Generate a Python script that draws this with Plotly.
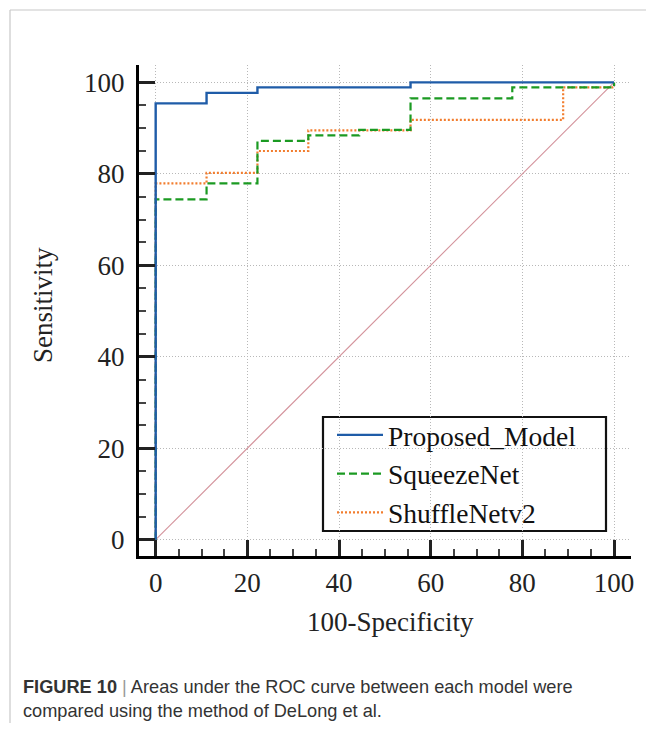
import plotly.graph_objects as go

# ROC step points (100-Specificity, Sensitivity)
proposed_fpr = [0, 0, 11.1, 22.2, 55.6, 100]
proposed_tpr = [0, 95.4, 97.7, 98.9, 100, 100]

squeeze_fpr = [0, 0, 11.1, 22.2, 33.3, 44.4, 55.6, 77.8, 100]
squeeze_tpr = [0, 74.4, 77.9, 87.2, 88.4, 89.6, 96.5, 98.9, 100]

shuffle_fpr = [0, 0, 11.1, 22.2, 33.3, 55.6, 88.9, 100]
shuffle_tpr = [0, 77.9, 80.2, 85.0, 89.5, 91.8, 98.9, 100]

diag_x = [0, 100]
diag_y = [0, 100]

series_names = ["Proposed_Model", "SqueezeNet", "ShuffleNetv2"]
tick_vals = [0, 20, 40, 60, 80, 100]

SERIF = "Liberation Serif, Times New Roman, serif"
SANS = "Liberation Sans, Arial, sans-serif"

fig = go.Figure()

fig.add_trace(go.Scatter(x=diag_x, y=diag_y, mode="lines",
                         line=dict(color="#d4939c", width=1.1),
                         showlegend=False, hoverinfo="skip"))

fig.add_trace(go.Scatter(x=shuffle_fpr, y=shuffle_tpr, mode="lines",
                         line=dict(color="#f27d2e", width=2.2, dash="2px,2px", shape="hv"),
                         name=series_names[2], legendrank=3))
fig.add_trace(go.Scatter(x=squeeze_fpr, y=squeeze_tpr, mode="lines",
                         line=dict(color="#1b9a22", width=2.2, dash="8px,4px", shape="hv"),
                         name=series_names[1], legendrank=2))
fig.add_trace(go.Scatter(x=proposed_fpr, y=proposed_tpr, mode="lines",
                         line=dict(color="#1f5ca8", width=2.4, shape="hv"),
                         name=series_names[0], legendrank=1))

axis_common = dict(
    tickvals=tick_vals,
    showgrid=True, gridcolor="#b8b8b8", griddash="1px,2px", gridwidth=1,
    zeroline=False,
    showline=True, linecolor="black", linewidth=3, mirror=False,
    ticks="inside", ticklen=16, tickwidth=2.5, tickcolor="#222",
    minor=dict(dtick=5, ticks="inside", ticklen=7, tickwidth=1.5, tickcolor="#444", showgrid=False),
    tickfont=dict(family=SERIF, size=27, color="#222"),
)

fig.update_xaxes(range=[-3.64, 103.7], ticklabelstandoff=1, **axis_common)
fig.update_yaxes(range=[-3.56, 103.8], ticklabelstandoff=6, **axis_common)

# page offset (body margin) compensation
OFF = 8
W, H = 638, 715
L = 139 - OFF
T = 65 - OFF
R = W - (631 - OFF)
B = H - (556 - OFF)
pw = W - L - R
ph = H - T - B

def px_to_paper_x(px):
    return (px - OFF - L) / pw

def py_to_paper_y(py):
    return (H - B - (py - OFF)) / ph

fig.update_layout(
    width=W, height=H,
    margin=dict(l=L, r=R, t=T, b=B),
    paper_bgcolor="white", plot_bgcolor="white",
    showlegend=True,
    legend=dict(
        x=px_to_paper_x(332), y=py_to_paper_y(474), xanchor="left", yanchor="middle",
        borderwidth=0, bgcolor="rgba(0,0,0,0)",
        font=dict(family=SERIF, size=27.5, color="#111"),
        itemwidth=46, tracegroupgap=0,
    ),
    annotations=[
        dict(text="Sensitivity", x=px_to_paper_x(43), y=py_to_paper_y(305),
             xref="paper", yref="paper", xanchor="center", yanchor="middle",
             showarrow=False, textangle=-90,
             font=dict(family=SERIF, size=27, color="#222")),
        dict(text="100-Specificity", x=px_to_paper_x(390), y=py_to_paper_y(622),
             xref="paper", yref="paper", xanchor="center", yanchor="middle",
             showarrow=False,
             font=dict(family=SERIF, size=27, color="#222")),
        dict(text="<b>FIGURE 10</b> <span style='color:#999'>|</span> Areas under the ROC curve between each model were<br>compared using the method of DeLong et al.",
             x=px_to_paper_x(21), y=py_to_paper_y(699), xref="paper", yref="paper",
             xanchor="left", yanchor="middle", align="left", showarrow=False,
             font=dict(family=SANS, size=18.2, color="#333")),
    ],
    shapes=[
        # legend frame
        dict(type="rect", xref="paper", yref="paper", layer="between",
             x0=px_to_paper_x(323), x1=px_to_paper_x(606),
             y0=py_to_paper_y(417), y1=py_to_paper_y(531),
             fillcolor="white", line=dict(color="#111", width=2.2)),
        # page frame lines
        dict(type="line", xref="paper", yref="paper",
             x0=px_to_paper_x(10), x1=px_to_paper_x(10),
             y0=py_to_paper_y(10), y1=py_to_paper_y(731),
             line=dict(color="#c8c8c8", width=1.2)),
        dict(type="line", xref="paper", yref="paper",
             x0=px_to_paper_x(10), x1=px_to_paper_x(654),
             y0=py_to_paper_y(10), y1=py_to_paper_y(10),
             line=dict(color="#c8c8c8", width=1.2)),
    ],
)

fig.write_html("out.html")
